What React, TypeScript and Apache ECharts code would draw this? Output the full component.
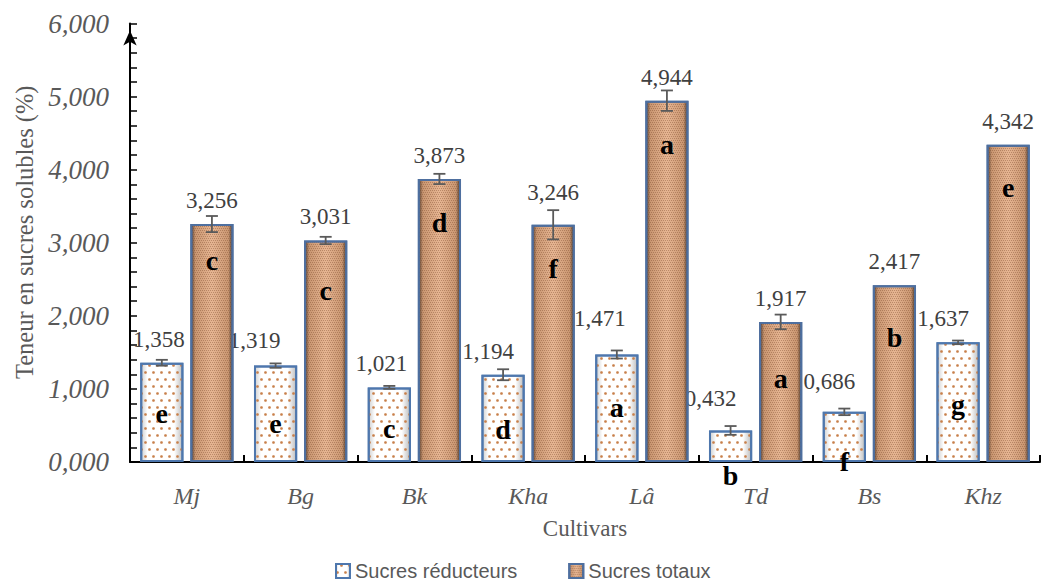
import React, { useEffect, useRef } from "react";
import * as echarts from "echarts";

// Cultivars and measured sugar contents (%)
const cultivars = ["Mj", "Bg", "Bk", "Kha", "Lâ", "Td", "Bs", "Khz"];
const reducingSugars = [1.358, 1.319, 1.021, 1.194, 1.471, 0.432, 0.686, 1.637];
const totalSugars = [3.256, 3.031, 3.873, 3.246, 4.944, 1.917, 2.417, 4.342];

// Standard errors (same unit)
const reducingErr = [0.04, 0.03, 0.02, 0.075, 0.055, 0.06, 0.045, 0.025];
const totalErr = [0.11, 0.05, 0.07, 0.2, 0.14, 0.1, 0, 0];

// Significance groups
const reducingLetters = ["e", "e", "c", "d", "a", "b", "f", "g"];
const totalLetters = ["c", "c", "d", "f", "a", "a", "b", "e"];

// Height (axis units) at which each group letter is written
const reducingLetterAt = [0.66, 0.52, 0.46, 0.44, 0.75, -0.18, 0.01, 0.79];
const totalLetterAt = [2.76, 2.35, 3.28, 2.65, 4.35, 1.14, 1.7, 3.76];

// Y axis ticks
const yMin = 0;
const yMax = 6;
const yStep = 1;

// Nudges for value labels [dx, dy] in pixels
const reducingLabelShift = [
  [-3, 0], [-21, -2], [-8, 0], [-15, 0], [-17, -12], [-20, -8], [-15, -7], [-15, 0],
];
const totalLabelShift = [
  [0, 0], [0, 0], [0, 0], [0, -9], [0, 0], [0, 0], [0, 0], [0, 0],
];

const CAT_GAP = 0.18;
const BAR_GAP = 0.16;

const fmt = (v: number) => v.toFixed(3).replace(".", ",");

function barOffset(api: any, side: number) {
  const band = api.size([1, 0])[0];
  const bw = (band * (1 - CAT_GAP)) / (2 + BAR_GAP);
  return ((side === 0 ? -1 : 1) * (bw * (1 + BAR_GAP))) / 2;
}

export default function App() {
  const ref = useRef<HTMLDivElement>(null);

  useEffect(() => {
    if (!ref.current) return;
    const chart = echarts.init(ref.current, undefined, { renderer: "svg" });

    const serif = "Liberation Serif";
    const grey = "#595959";

    const lightFill = new echarts.graphic.LinearGradient(0, 0, 1, 0, [
      { offset: 0, color: "#d0d0d0" },
      { offset: 0.15, color: "#ffffff" },
      { offset: 0.8, color: "#ffffff" },
      { offset: 1, color: "#bdbdbd" },
    ]);
    const darkFill = new echarts.graphic.LinearGradient(0, 0, 1, 0, [
      { offset: 0, color: "#5a4232" },
      { offset: 0.1, color: "#c99671" },
      { offset: 0.5, color: "#e6b592" },
      { offset: 0.9, color: "#c99671" },
      { offset: 1, color: "#4f3b2d" },
    ]);

    const valueLabel = {
      show: true,
      position: "top",
      distance: 12,
      fontFamily: serif,
      fontSize: 23,
      color: "#404040",
      formatter: (p: any) => fmt(p.value),
    };

    const errData: number[][] = [];
    reducingSugars.forEach((v, i) => {
      if (reducingErr[i] > 0) errData.push([i, v, reducingErr[i], 0]);
    });
    totalSugars.forEach((v, i) => {
      if (totalErr[i] > 0) errData.push([i, v, totalErr[i], 1]);
    });

    const letterData: number[][] = [];
    reducingLetterAt.forEach((y, i) => letterData.push([i, y, 0]));
    totalLetterAt.forEach((y, i) => letterData.push([i, y, 1]));

    const errStyle = { stroke: "#5a5a5a", lineWidth: 1.8 };

    chart.setOption({
      animation: false,
      backgroundColor: "#ffffff",
      grid: { left: 130, right: 3, top: 23.5, bottom: 123, containLabel: false },
      legend: {
        data: ["Sucres réducteurs", "Sucres totaux"],
        left: 335,
        top: 561,
        padding: 0,
        itemWidth: 14,
        itemHeight: 14,
        itemGap: 51,
        icon: "rect",
        textStyle: { fontFamily: "Liberation Sans", fontSize: 20, color: grey, lineHeight: 20 },
      },
      xAxis: {
        type: "category",
        data: cultivars,
        name: "Cultivars",
        nameLocation: "middle",
        nameGap: 55,
        nameTextStyle: { fontFamily: serif, fontSize: 23, color: grey },
        axisLine: { lineStyle: { color: "#000", width: 2 } },
        axisTick: { show: true, inside: true, length: 7, lineStyle: { color: "#000", width: 2 } },
        axisLabel: {
          fontFamily: serif,
          fontStyle: "italic",
          fontSize: 24,
          color: grey,
          margin: 22,
        },
      },
      yAxis: {
        type: "value",
        min: yMin,
        max: yMax,
        interval: yStep,
        name: "Teneur en sucres solubles (%)",
        nameLocation: "middle",
        nameGap: 93,
        nameTextStyle: {
          fontFamily: serif,
          fontSize: 24.5,
          color: grey,
          padding: [0, 0, 0, 21],
        },
        axisLine: {
          show: true,
          lineStyle: { color: "#000", width: 2 },
          symbol: ["none", "arrow"],
          symbolSize: [10, 15],
          symbolOffset: [0, -7],
        },
        axisTick: { show: true, inside: true, length: 7, lineStyle: { color: "#000", width: 1.5 } },
        minorTick: { show: true, splitNumber: 5, length: 7, lineStyle: { color: "#000", width: 1.5 } },
        splitLine: { show: false },
        axisLabel: {
          fontFamily: serif,
          fontStyle: "italic",
          fontSize: 27,
          color: grey,
          margin: 21,
          formatter: (v: number) => fmt(v),
        },
      },
      series: [
        {
          name: "Sucres réducteurs",
          type: "bar",
          z: 2,
          barGap: BAR_GAP * 100 + "%",
          barCategoryGap: CAT_GAP * 100 + "%",
          data: reducingSugars.map((v, i) => ({
            value: v,
            label: { offset: reducingLabelShift[i] },
          })),
          itemStyle: {
            color: lightFill,
            borderColor: "#4e77ad",
            borderWidth: 2,
            decal: {
              symbol: "circle",
              symbolSize: 0.9,
              color: "#c8804a",
              dashArrayX: [[3, 5], [0, 4, 3, 1]],
              dashArrayY: [3, 4],
              rotation: 0,
            },
          },
          label: valueLabel,
        },
        {
          name: "Sucres totaux",
          type: "bar",
          z: 3,
          barGap: BAR_GAP * 100 + "%",
          barCategoryGap: CAT_GAP * 100 + "%",
          data: totalSugars.map((v, i) => ({
            value: v,
            label: { offset: totalLabelShift[i] },
          })),
          itemStyle: {
            color: darkFill,
            borderColor: "#4e6f9f",
            borderWidth: 2,
            decal: {
              symbol: "rect",
              symbolSize: 1,
              color: "rgba(110,60,30,0.35)",
              dashArrayX: [[1, 1], [0, 1, 1, 0]],
              dashArrayY: [1, 1],
              rotation: 0,
            },
          },
          label: valueLabel,
        },
        {
          name: "errors",
          type: "custom",
          z: 4,
          clip: false,
          encode: { x: 0, y: 1 },
          data: errData,
          renderItem: (_params: any, api: any) => {
            const i = api.value(0);
            const v = api.value(1);
            const e = api.value(2);
            const side = api.value(3);
            const off = barOffset(api, side);
            const top = api.coord([i, v + e]);
            const bot = api.coord([i, v - e]);
            const x = top[0] + off;
            return {
              type: "group",
              children: [
                { type: "line", shape: { x1: x, y1: top[1], x2: x, y2: bot[1] }, style: errStyle },
                { type: "line", shape: { x1: x - 6, y1: top[1], x2: x + 6, y2: top[1] }, style: errStyle },
                { type: "line", shape: { x1: x - 6, y1: bot[1], x2: x + 6, y2: bot[1] }, style: errStyle },
              ],
            };
          },
        },
        {
          name: "groups",
          type: "custom",
          z: 5,
          clip: false,
          encode: { x: 0, y: 1 },
          data: letterData,
          renderItem: (_params: any, api: any) => {
            const i = api.value(0);
            const y = api.value(1);
            const side = api.value(2);
            const off = barOffset(api, side);
            const pt = api.coord([i, y]);
            const text = side === 0 ? reducingLetters[i] : totalLetters[i];
            return {
              type: "text",
              x: pt[0] + off,
              y: pt[1],
              style: {
                text,
                font: `bold 28px "${serif}"`,
                fill: "#000",
                align: "center",
                verticalAlign: "middle",
              },
            };
          },
        },
      ],
    });

    return () => chart.dispose();
  }, []);

  return (
    <div
      ref={ref}
      style={{ position: "fixed", left: 0, top: 0, width: 1043, height: 585, background: "#fff" }}
    />
  );
}
